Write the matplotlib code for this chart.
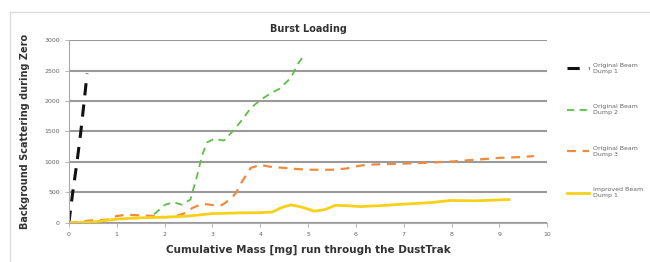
import matplotlib.pyplot as plt
from matplotlib.lines import Line2D

# data
x_dump1 = [0.0, 0.08, 0.17, 0.25, 0.32, 0.38]
y_dump1 = [0, 500, 1000, 1500, 2000, 2450]

x_dump2 = [1.78, 2.01, 2.19, 2.36, 2.54, 2.68, 2.78, 2.89, 3.03, 3.24, 3.41, 3.59,
           3.8, 4.0, 4.22, 4.4, 4.64, 4.78, 4.92]
y_dump2 = [140, 295, 335, 295, 380, 770, 1100, 1320, 1375, 1350, 1490, 1660,
           1880, 2015, 2125, 2200, 2380, 2600, 2760]

x_dump3 = [0.0, 0.5, 0.8, 1.0, 1.2, 1.5, 1.8, 2.0, 2.2, 2.4, 2.6, 2.8, 3.0, 3.2,
           3.4, 3.5, 3.6, 3.8, 4.0, 4.2, 4.5, 4.8, 5.0, 5.5, 5.8, 6.0, 6.2, 6.5,
           7.0, 7.5, 8.0, 8.5, 9.0, 9.5, 9.72]
y_dump3 = [0, 40, 50, 110, 130, 120, 110, 90, 100, 150, 250, 310, 290, 290,
           400, 500, 650, 900, 950, 920, 900, 880, 870, 870, 890, 925, 950, 960,
           970, 985, 1005, 1035, 1065, 1080, 1095]

x_improved = [0.0, 0.5, 1.0, 1.5, 2.0, 2.5, 3.0, 3.5, 4.0, 4.25, 4.45, 4.64, 4.85,
              5.13, 5.35, 5.57, 5.8, 6.09, 6.5, 7.0, 7.56, 7.98, 8.5, 9.2]
y_improved = [0, 10, 60, 80, 90, 110, 150, 160, 165, 175, 250, 294, 260,
              190, 215, 285, 280, 265, 280, 305, 330, 365, 360, 380]

labels = ["Original Beam\nDump 1", "Original Beam\nDump 2",
          "Original Beam\nDump 3", "Improved Beam\nDump 1"]

fig = plt.figure(figsize=(6.5, 2.62), dpi=100)
ax = fig.add_axes([0.106, 0.150, 0.736, 0.697])

ax.plot(x_dump1, y_dump1, color="#111111", lw=2.2, ls=(0, (4, 3)), label=labels[0])
ax.plot(x_dump2, y_dump2, color="#5cbf45", lw=1.3, ls=(0, (4, 3)), label=labels[1])
ax.plot(x_dump3, y_dump3, color="#f08a3c", lw=1.6, ls=(0, (4, 3)), label=labels[2])
ax.plot(x_improved, y_improved, color="#f7d117", lw=2.0, label=labels[3])

ax.set_xlim(0, 10)
ax.set_ylim(0, 3000)
ax.set_xticks(range(0, 11))
ax.set_yticks(range(0, 3001, 500))
ax.yaxis.grid(True, color="#9a9a9a", lw=1.5)
ax.set_axisbelow(True)
for s in ["top", "right"]:
    ax.spines[s].set_visible(False)
for s in ["left", "bottom"]:
    ax.spines[s].set_color("#aaaaaa")
    ax.spines[s].set_linewidth(0.8)
ax.tick_params(labelsize=4.5, labelcolor="#666666", color="#aaaaaa", length=3, width=0.6)

ax.set_title("Burst Loading", fontsize=7, fontweight="bold", color="#333333", pad=6)
ax.set_xlabel("Cumulative Mass [mg] run through the DustTrak", fontsize=7.5,
              fontweight="bold", color="#333333", labelpad=6)
ax.set_ylabel("Background Scattering during Zero", fontsize=7, fontweight="bold",
              color="#333333", labelpad=10)

ax.legend(loc="upper left", bbox_to_anchor=(1.03, 0.905), frameon=False, fontsize=4.5,
          labelspacing=4.9, handlelength=3.5, handletextpad=0.6, labelcolor="#666666")

# frame of the screenshot
fig.add_artist(Line2D([0.016, 1.0], [0.955, 0.955], color="#dddddd", lw=1))
fig.add_artist(Line2D([0.016, 0.016], [0.0, 0.955], color="#dddddd", lw=1))

fig.savefig("out.png", dpi=100)
